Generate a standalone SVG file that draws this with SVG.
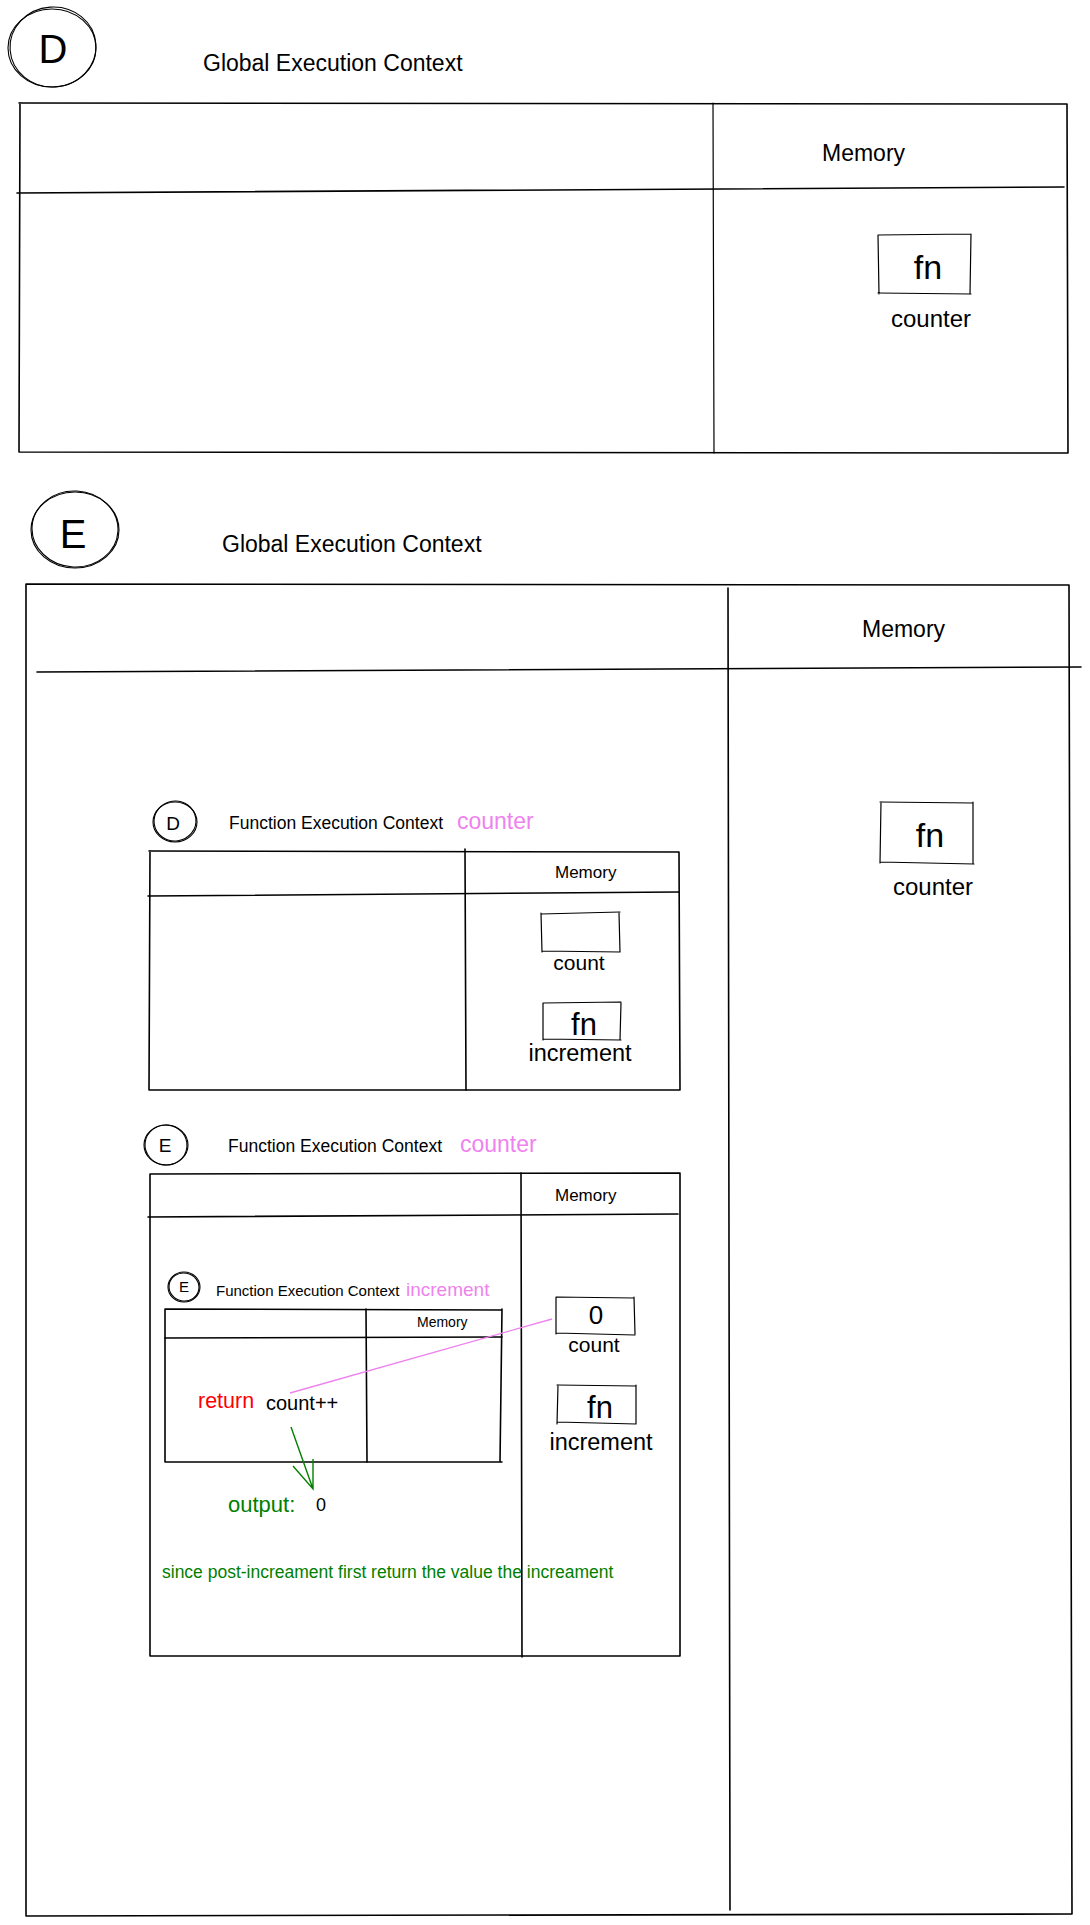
<svg xmlns="http://www.w3.org/2000/svg" width="1090" height="1925" viewBox="0 0 1090 1925">
<style>
text{font-family:"Liberation Sans",Arial,sans-serif;fill:#000}
.ln{fill:none;stroke:#000;stroke-width:1.6;stroke-linecap:round}
.lt{fill:none;stroke:#000;stroke-width:1.2;stroke-linecap:round}
.cir{fill:none;stroke:#000;stroke-width:1.1}
.pk{fill:#EE82EE}
.gr{fill:#008000}
</style>
<rect width="1090" height="1925" fill="#fff"/>

<g id="D-label">
<ellipse class="cir" cx="52" cy="48" rx="44" ry="39"/>
<ellipse class="cir" cx="53" cy="47" rx="43" ry="40" transform="rotate(-4 53 47)"/>
<text x="53" y="63" font-size="40" text-anchor="middle">D</text>
<text x="203" y="71" font-size="23">Global Execution Context</text>
</g>

<g id="D-global-context">
<path class="ln" d="M19 103 L1067 104 M1067 104 L1068 453 M1068 453 L19 452 M19 452 L20 103"/>
<path class="ln" d="M17 193 L1064 187"/>
<path class="lt" d="M713 103 L714 453"/>
<text x="822" y="161" font-size="23">Memory</text>
</g>

<g id="D-counter-fn">
<path class="lt" d="M878 235 L971 234 M971 234 L970 294 M971 294 L878 293 M879 294 L878 235"/>
<text x="928" y="279" font-size="34" text-anchor="middle">fn</text>
<text x="931" y="327" font-size="24" text-anchor="middle">counter</text>
</g>

<g id="E-label">
<ellipse class="cir" cx="75" cy="530" rx="44" ry="38"/>
<ellipse class="cir" cx="75" cy="529" rx="43" ry="38" transform="rotate(3 75 529)"/>
<text x="73" y="548" font-size="40" text-anchor="middle">E</text>
<text x="222" y="552" font-size="23">Global Execution Context</text>
</g>

<g id="E-global-context">
<path class="ln" d="M26 584 L1069 585 M1069 585 L1072 1914 M1072 1914 L26 1916 M26 1916 L26 584"/>
<path class="ln" d="M37 672 L1081 667"/>
<path class="ln" d="M728 588 L730 1910"/>
<text x="862" y="637" font-size="23">Memory</text>
</g>

<g id="E-counter-fn">
<path class="lt" d="M880 802 L973 803 M973 802 L973 863 M974 864 L880 862 M880 863 L881 802"/>
<text x="930" y="847" font-size="34" text-anchor="middle">fn</text>
<text x="933" y="895" font-size="24" text-anchor="middle">counter</text>
</g>

<g id="D-function-context">
<ellipse class="cir" cx="175" cy="822" rx="22" ry="20"/>
<ellipse class="cir" cx="175" cy="821" rx="21" ry="20" transform="rotate(-8 175 821)"/>
<text x="173" y="830" font-size="19" text-anchor="middle">D</text>
<text x="229" y="829" font-size="17.5">Function Execution Context</text>
<text x="457" y="829" font-size="23" class="pk">counter</text>
<path class="ln" d="M149 851 L679 852 M679 852 L680 1090 M680 1090 L149 1090 M149 1090 L150 851"/>
<path class="ln" d="M148 896 L679 892"/>
<path class="ln" d="M465 849 L466 1090"/>
<text x="555" y="878" font-size="17">Memory</text>
</g>

<g id="D-count">
<path class="lt" d="M541 914 L620 912 M619 913 L620 952 M620 952 L542 951 M542 952 L541 913"/>
<text x="579" y="970" font-size="21" text-anchor="middle">count</text>
</g>

<g id="D-increment">
<path class="lt" d="M543 1003 L621 1002 M621 1003 L620 1040 M621 1040 L543 1039 M543 1040 L543 1003"/>
<text x="584" y="1035" font-size="31" text-anchor="middle">fn</text>
<text x="580" y="1061" font-size="23.5" text-anchor="middle">increment</text>
</g>

<g id="E-function-context">
<ellipse class="cir" cx="166" cy="1145" rx="22" ry="20"/>
<ellipse class="cir" cx="166" cy="1145" rx="21" ry="20" transform="rotate(6 166 1145)"/>
<text x="165" y="1152" font-size="19" text-anchor="middle">E</text>
<text x="228" y="1152" font-size="17.5">Function Execution Context</text>
<text x="460" y="1152" font-size="23" class="pk">counter</text>
<path class="ln" d="M150 1174 L680 1173 M680 1173 L680 1656 M680 1656 L150 1656 M150 1656 L150 1174"/>
<path class="ln" d="M148 1217 L678 1214"/>
<path class="ln" d="M521 1173 L522 1657"/>
<text x="555" y="1201" font-size="17">Memory</text>
</g>

<g id="E-count">
<path class="lt" d="M556 1297 L634 1298 M634 1297 L635 1334 M635 1335 L556 1333 M556 1334 L556 1297"/>
<text x="596" y="1324" font-size="26" text-anchor="middle">0</text>
<text x="594" y="1352" font-size="21" text-anchor="middle">count</text>
</g>

<g id="E-increment">
<path class="lt" d="M557 1385 L636 1386 M636 1385 L636 1424 M636 1424 L557 1422 M557 1424 L558 1385"/>
<text x="600" y="1418" font-size="31" text-anchor="middle">fn</text>
<text x="601" y="1450" font-size="23.5" text-anchor="middle">increment</text>
</g>

<g id="increment-function-context">
<ellipse class="cir" cx="184" cy="1287" rx="16" ry="15"/>
<ellipse class="cir" cx="184" cy="1287" rx="15" ry="14" transform="rotate(10 184 1287)"/>
<text x="184" y="1292" font-size="15" text-anchor="middle">E</text>
<text x="216" y="1296" font-size="15">Function Execution Context</text>
<text x="406" y="1296" font-size="19" class="pk">increment</text>
<path class="ln" d="M165 1309 L502 1310 M502 1309 L500 1462 M502 1462 L165 1462 M165 1462 L165 1309"/>
<path class="ln" d="M165 1338 L502 1337"/>
<path class="ln" d="M366 1309 L367 1462"/>
<text x="417" y="1327" font-size="14">Memory</text>
<text x="198" y="1408" font-size="21.5" fill="#FF0000" style="fill:#FF0000">return</text>
<text x="266" y="1410" font-size="20">count++</text>
</g>

<g id="output">
<text x="228" y="1512" font-size="22" class="gr">output:</text>
<text x="316" y="1511" font-size="18">0</text>
<text x="162" y="1578" font-size="17.5" class="gr">since post-increament first return the value the increament</text>
</g>

<g id="connectors">
<path d="M290 1393 L552 1319" fill="none" stroke="#EE82EE" stroke-width="1.3"/>
<path d="M291 1427 L313 1489 M293 1466 L313 1489 L313 1459" fill="none" stroke="#008000" stroke-width="1.4"/>
</g>
</svg>
